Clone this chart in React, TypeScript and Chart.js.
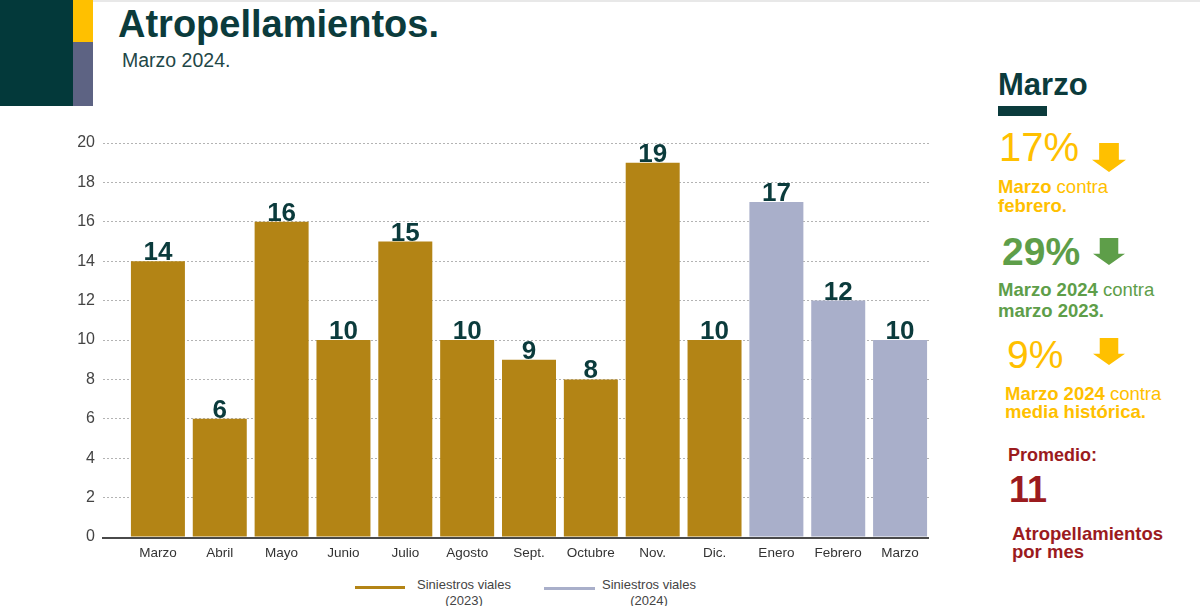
import React, { useEffect, useRef } from "react";
import { Chart, registerables } from "chart.js";

Chart.register(...registerables);

const categories = ["Marzo", "Abril", "Mayo", "Junio", "Julio", "Agosto", "Sept.", "Octubre", "Nov.", "Dic.", "Enero", "Febrero", "Marzo"];
const values2023 = [14, 6, 16, 10, 15, 10, 9, 8, 19, 10];
const values2024 = [17, 12, 10];
const seriesNames = ["Siniestros viales (2023)", "Siniestros viales (2024)"];
const yMin = 0;
const yMax = 20;
const yStep = 2;

const GOLD = "#B38415";
const LAVENDER = "#A9AFCA";
const TEAL = "#0B3B3C";
const YELLOW = "#FFC000";
const GREEN = "#5E9E49";
const RED = "#9B1B1E";
const FONT = "'Liberation Sans', Arial, Helvetica, sans-serif";

const data2023 = categories.map((_, i) => (i < values2023.length ? values2023[i] : null));
const data2024 = categories.map((_, i) => (i >= values2023.length ? values2024[i - values2023.length] : null));

const valueLabels = {
  id: "valueLabels",
  afterDatasetsDraw(chart: any) {
    const ctx = chart.ctx;
    ctx.save();
    ctx.font = `bold 26px ${FONT}`;
    ctx.fillStyle = TEAL;
    ctx.textAlign = "center";
    ctx.textBaseline = "alphabetic";
    chart.data.datasets.forEach((ds: any, di: number) => {
      const meta = chart.getDatasetMeta(di);
      meta.data.forEach((el: any, i: number) => {
        const v = ds.data[i];
        if (v === null || v === undefined) return;
        ctx.fillText(String(v), el.x, el.y - 1);
      });
    });
    ctx.restore();
  },
};

const axisLine = {
  id: "axisLine",
  afterDatasetsDraw(chart: any) {
    const ctx = chart.ctx;
    const y = chart.scales.y.getPixelForValue(0);
    ctx.save();
    ctx.strokeStyle = "#4a4a4a";
    ctx.lineWidth = 2;
    ctx.beginPath();
    ctx.moveTo(chart.chartArea.left - 25, y + 1);
    ctx.lineTo(chart.chartArea.right - 2, y + 1);
    ctx.stroke();
    ctx.restore();
  },
};

function BarChart() {
  const ref = useRef<HTMLCanvasElement | null>(null);
  useEffect(() => {
    if (!ref.current) return;
    const chart = new Chart(ref.current, {
      type: "bar",
      data: {
        labels: categories,
        datasets: [
          { label: seriesNames[0], data: data2023, backgroundColor: GOLD, grouped: false } as any,
          { label: seriesNames[1], data: data2024, backgroundColor: LAVENDER, grouped: false } as any,
        ],
      },
      options: {
        animation: false,
        responsive: false,
        devicePixelRatio: 1,
        layout: { padding: { top: 33, right: 9, left: 0, bottom: 0 } },
        datasets: { bar: { barPercentage: 0.873, categoryPercentage: 1.0 } },
        plugins: { legend: { display: false }, tooltip: { enabled: false }, title: { display: false } },
        scales: {
          x: {
            grid: { display: false, drawTicks: false },
            border: { display: false },
            ticks: { color: "#333", font: { family: FONT, size: 13.5 }, padding: 8, maxRotation: 0, autoSkip: false },
            afterFit: (s: any) => { s.height = 33; },
          },
          y: {
            min: yMin,
            max: yMax,
            ticks: { stepSize: yStep, color: "#444", font: { family: FONT, size: 16 }, padding: 8 },
            grid: {
              color: "#b3b3b3",
              lineWidth: 1,
              drawTicks: true,
              tickLength: 24,
              tickColor: "#b3b3b3",
              tickBorderDash: [2, 2],
            },
            border: { display: false, dash: [2, 2] },
            afterFit: (s: any) => { s.width = 67; },
          },
        },
      },
      plugins: [valueLabels, axisLine],
    });
    return () => chart.destroy();
  }, []);
  return <canvas ref={ref} width={880} height={460} style={{ position: "absolute", left: 60, top: 110, width: 880, height: 460 }} />;
}

function DownArrow({ left, top, w, h, color }: { left: number; top: number; w: number; h: number; color: string }) {
  const shaftW = w * 0.58;
  const shaftH = h * 0.58;
  const sx = (w - shaftW) / 2;
  const pts = `${sx},0 ${sx + shaftW},0 ${sx + shaftW},${shaftH} ${w},${shaftH} ${w / 2},${h} 0,${shaftH} ${sx},${shaftH}`;
  return (
    <svg style={{ position: "absolute", left, top }} width={w} height={h}>
      <polygon points={pts} fill={color} />
    </svg>
  );
}

const abs = (left: number, top: number, extra: any = {}) => ({ position: "absolute" as const, left, top, whiteSpace: "nowrap" as const, ...extra });

export default function App() {
  return (
    <div style={{ position: "absolute", left: 0, top: 0, width: 1200, height: 606, overflow: "hidden", background: "#fff", fontFamily: FONT }}>
      {/* header blocks */}
      <div style={{ position: "absolute", left: 93, top: 0, width: 1107, height: 2, background: "#e8e8e8" }} />
      <div style={{ position: "absolute", left: 0, top: 0, width: 73, height: 106, background: "#03393A" }} />
      <div style={{ position: "absolute", left: 73, top: 0, width: 20, height: 42, background: YELLOW }} />
      <div style={{ position: "absolute", left: 73, top: 42, width: 20, height: 64, background: "#5D6383" }} />
      <div style={abs(118, 5, { fontSize: 38, lineHeight: "38px", fontWeight: "bold", color: TEAL })}>Atropellamientos.</div>
      <div style={abs(122, 51, { fontSize: 19.5, lineHeight: "19.5px", color: "#1f4747" })}>Marzo 2024.</div>

      <BarChart />

      {/* legend */}
      <div style={{ position: "absolute", left: 355, top: 586, width: 50, height: 3, background: GOLD }} />
      <div style={abs(410, 577, { width: 108, textAlign: "center", fontSize: 13, lineHeight: "16px", color: "#444", whiteSpace: "normal" })}>
        Siniestros viales<br />(2023)
      </div>
      <div style={{ position: "absolute", left: 544, top: 587, width: 51, height: 3, background: LAVENDER }} />
      <div style={abs(595, 577, { width: 108, textAlign: "center", fontSize: 13, lineHeight: "16px", color: "#444", whiteSpace: "normal" })}>
        Siniestros viales<br />(2024)
      </div>

      {/* right panel */}
      <div style={abs(998, 69, { fontSize: 31, lineHeight: "31px", fontWeight: "bold", color: TEAL })}>Marzo</div>
      <div style={{ position: "absolute", left: 998, top: 106, width: 49, height: 10, background: TEAL }} />

      <div style={abs(999, 127, { fontSize: 40, lineHeight: "40px", color: YELLOW })}>17%</div>
      <DownArrow left={1092} top={143} w={34} h={29} color={YELLOW} />
      <div style={abs(998, 177, { fontSize: 18.5, lineHeight: "19px", color: YELLOW })}>
        <b>Marzo</b> contra<br /><b>febrero.</b>
      </div>

      <div style={abs(1002, 232, { fontSize: 39, lineHeight: "39px", fontWeight: "bold", color: GREEN })}>29%</div>
      <DownArrow left={1093} top={238} w={32} h={27} color={GREEN} />
      <div style={abs(998, 279, { fontSize: 18.5, lineHeight: "21px", color: GREEN })}>
        <b>Marzo 2024</b> contra<br /><b>marzo 2023.</b>
      </div>

      <div style={abs(1007, 335, { fontSize: 39, lineHeight: "39px", color: YELLOW })}>9%</div>
      <DownArrow left={1093} top={338} w={32} h={27} color={YELLOW} />
      <div style={abs(1005, 385, { fontSize: 18.5, lineHeight: "18px", color: YELLOW })}>
        <b>Marzo 2024</b> contra<br /><b>media histórica.</b>
      </div>

      <div style={abs(1008, 446, { fontSize: 18, lineHeight: "18px", fontWeight: "bold", color: RED })}>Promedio:</div>
      <div style={abs(1009, 472, { fontSize: 36, lineHeight: "36px", fontWeight: "bold", color: RED })}>11</div>
      <div style={abs(1012, 525, { fontSize: 18.5, lineHeight: "18px", fontWeight: "bold", color: RED })}>
        Atropellamientos<br />por mes
      </div>
    </div>
  );
}
